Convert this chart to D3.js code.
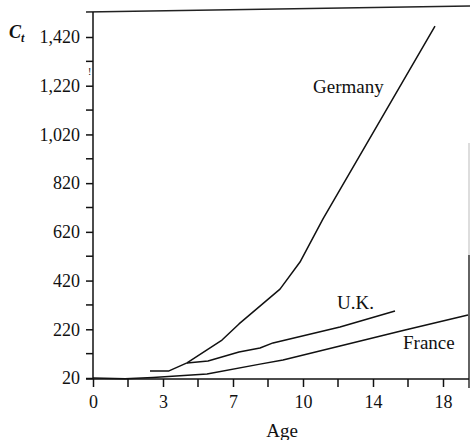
<!DOCTYPE html>
<html>
<head>
<meta charset="utf-8">
<script src="https://cdn.jsdelivr.net/npm/d3@7/dist/d3.min.js"></script>
<style>
  html, body { margin: 0; padding: 0; background: #fff; }
  svg { display: block; }
  text { font-family: "Liberation Serif", "DejaVu Serif", serif; fill: #111; }
</style>
</head>
<body>
<svg id="chart" width="470" height="440"></svg>
<script>
// ---- data ----
const series = ["Germany", "U.K.", "France"];
const germanyAge = [2.85, 3.8, 4.7, 5.7, 6.45, 7.3, 9.35, 10.35, 11.5, 17.1];
const germanyCt  = [49, 49, 82, 135, 176, 242, 385, 496, 673, 1465];
const ukAge = [4.7, 5.75, 7.3, 8.35, 9.0, 12.35, 15.1];
const ukCt  = [82, 90, 127, 143, 164, 229, 295];
const franceAge = [0, 1.6, 3, 5.7, 8.35, 9.5, 12.35, 15.5, 18.75];
const franceCt  = [20, 17, 22, 36, 77, 94, 151, 215, 279];
const yTicks = [20, 220, 420, 620, 820, 1020, 1220, 1420];
const yMinorTicks = [120, 320, 520, 720, 920, 1120, 1320];
const xTickValues = [0, 3.5, 7, 10.5, 14, 17.5];
const xTickLabels = ["0", "3", "7", "10", "14", "18"];
const xMinorTicks = [1.75, 5.25, 8.75, 12.25, 15.75];
const xTitle = "Age";

const FONT = "'Liberation Serif', 'Times New Roman', serif";

// ---- scales ----
const svg = d3.select("#chart");
const x = d3.scaleLinear().domain([0, 17.5]).range([93, 443]);
const y = d3.scaleLinear().domain([20, 1420]).range([378, 37]);
const xRight = x(18.8);

// ---- frame ----
const axisColor = "#111";
svg.append("path")
  .attr("d", `M86,12 L${xRight + 2},6`)
  .attr("stroke", "#222").attr("stroke-width", 1.4).attr("fill", "none");
svg.append("line")
  .attr("x1", xRight).attr("x2", xRight).attr("y1", 143).attr("y2", 255)
  .attr("stroke", "#bbb").attr("stroke-width", 1);
svg.append("line")
  .attr("x1", xRight).attr("x2", xRight).attr("y1", 255).attr("y2", 388)
  .attr("stroke", "#222").attr("stroke-width", 1.4);

// ---- y axis ----
const yAxis = d3.axisLeft(y)
  .tickValues(yTicks)
  .tickFormat(d3.format(","))
  .tickSize(7).tickPadding(6);
const gy = svg.append("g").attr("transform", `translate(${x(0)},0)`).call(yAxis);
gy.attr("font-family", null).attr("font-size", null);
gy.select(".domain").attr("d", `M0,12V${y(20) + 1}`).attr("stroke", axisColor).attr("stroke-width", 1.5);
gy.selectAll(".tick line").attr("stroke", axisColor).attr("stroke-width", 1.5);
gy.selectAll(".tick text").style("font-size", "18px").style("font-family", FONT).attr("fill", "#111");
gy.selectAll(".minor").data(yMinorTicks).enter().append("line")
  .attr("x1", -7).attr("x2", 0).attr("y1", d => y(d)).attr("y2", d => y(d))
  .attr("stroke", axisColor).attr("stroke-width", 1.5);

// ---- x axis ----
const xAxis = d3.axisBottom(x)
  .tickValues(xTickValues)
  .tickFormat((d, i) => xTickLabels[i])
  .tickSize(8).tickPadding(8);
const gx = svg.append("g").attr("transform", `translate(0,${y(20) + 1})`).call(xAxis);
gx.attr("font-family", null).attr("font-size", null);
gx.select(".domain").attr("d", `M86,0H${xRight}`).attr("stroke", axisColor).attr("stroke-width", 1.5);
gx.selectAll(".tick line").attr("stroke", axisColor).attr("stroke-width", 1.5);
gx.selectAll(".tick text").style("font-size", "18px").style("font-family", FONT).attr("fill", "#111");
gx.selectAll(".minor").data(xMinorTicks).enter().append("line")
  .attr("x1", d => x(d)).attr("x2", d => x(d)).attr("y1", 0).attr("y2", 8)
  .attr("stroke", axisColor).attr("stroke-width", 1.5);

// ---- lines ----
const line = d3.line().x(d => x(d[0])).y(d => y(d[1]));
const data = [
  d3.zip(germanyAge, germanyCt),
  d3.zip(ukAge, ukCt),
  d3.zip(franceAge, franceCt)
];
svg.append("g").selectAll("path").data(data).enter().append("path")
  .attr("d", line)
  .attr("fill", "none").attr("stroke", "#111").attr("stroke-width", 1.5)
  .attr("stroke-linejoin", "round");

// ---- series labels ----
const labelPos = [[11.0, 1190], [12.2, 303], [15.5, 139]];
svg.append("g").selectAll("text").data(series).enter().append("text")
  .attr("x", (d, i) => x(labelPos[i][0]))
  .attr("y", (d, i) => y(labelPos[i][1]))
  .style("font-size", "19px").style("font-family", FONT)
  .text(d => d);

// ---- axis titles ----
svg.append("text").attr("x", 282).attr("y", 437).attr("text-anchor", "middle")
  .style("font-size", "19px").style("font-family", FONT).text(xTitle);
const ct = svg.append("text").attr("x", 9).attr("y", 38)
  .style("font-size", "18px").style("font-family", FONT)
  .style("font-style", "italic").style("font-weight", "bold");
ct.append("tspan").text("C");
ct.append("tspan").attr("dy", 4).style("font-size", "12px").text("t");

// small scan mark near the axis
svg.append("text").attr("x", 88).attr("y", 75).style("font-size", "10px").style("font-family", FONT).text("!");
</script>
</body>
</html>
